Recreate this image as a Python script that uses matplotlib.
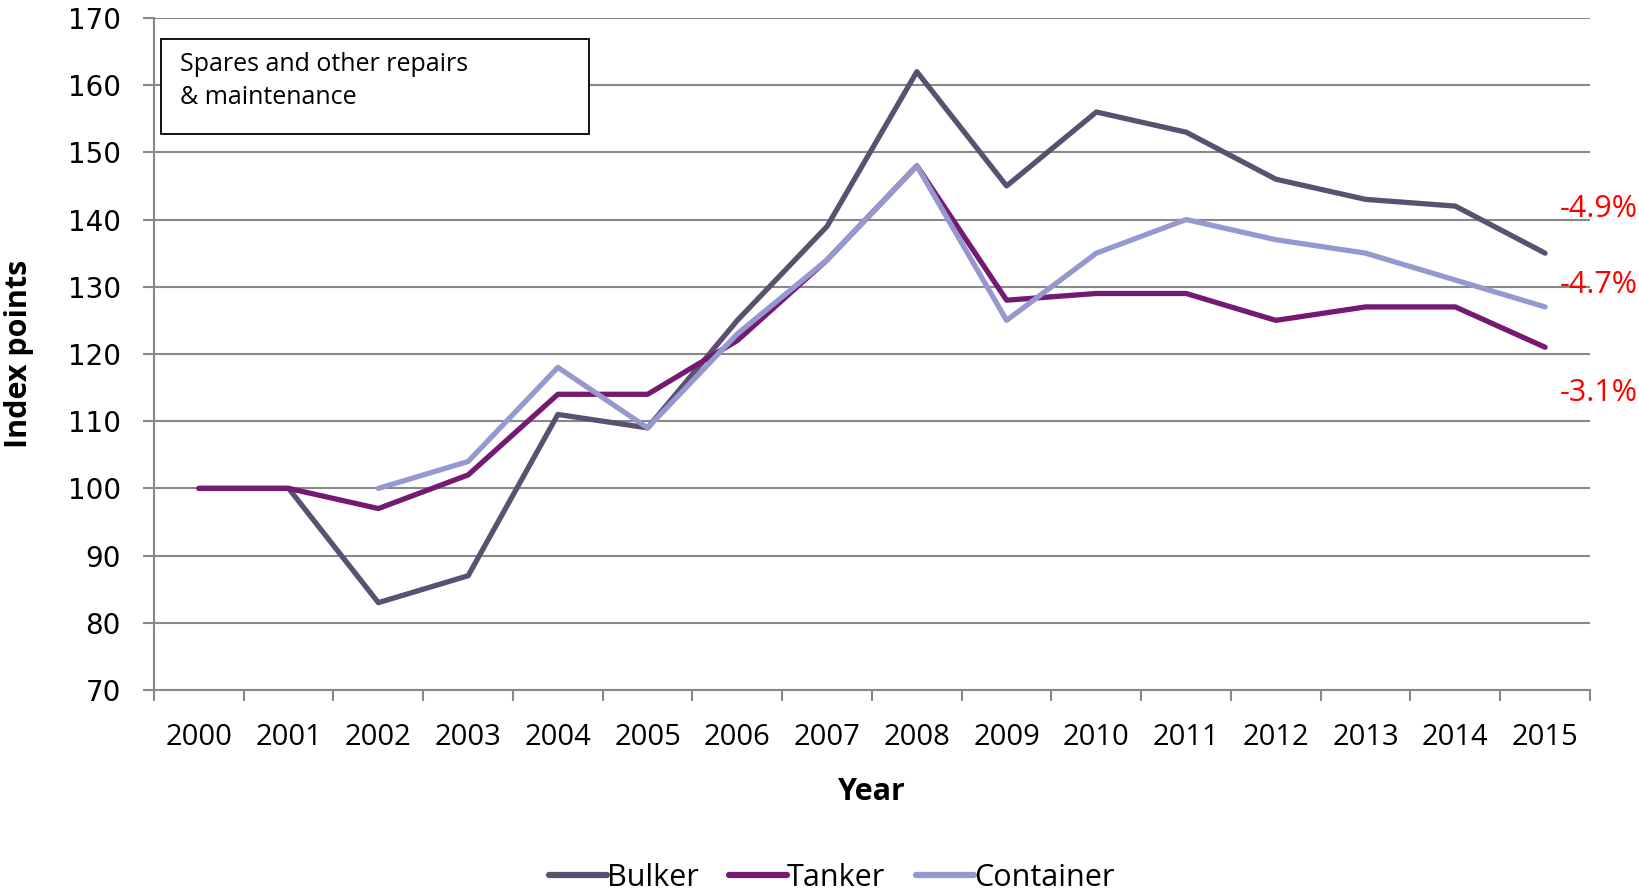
import matplotlib.pyplot as plt
from matplotlib.transforms import blended_transform_factory

years = ['2000', '2001', '2002', '2003', '2004', '2005', '2006', '2007',
         '2008', '2009', '2010', '2011', '2012', '2013', '2014', '2015']
bulker = [100, 100, 83, 87, 111, 109, 125, 139, 162, 145, 156, 153, 146, 143, 142, 135]
tanker = [100, 100, 97, 102, 114, 114, 122, 134, 148, 128, 129, 129, 125, 127, 127, 121]
# container series starts in 2002
container = [None, None, 100, 104, 118, 109, 123, 134, 148, 125, 135, 140, 137, 135, 131, 127]
changes = ['-4.9%', '-4.7%', '-3.1%']
change_y = [141.5, 130.3, 114.2]

lab_font = 'Open Sans'

fig = plt.figure(figsize=(16.4, 8.96), dpi=100)
ax = fig.add_axes([0.0939, 0.2299, 0.8756, 0.7501])

x = list(range(len(years)))
cx = [i for i, v in zip(x, container) if v is not None]
cy = [v for v in container if v is not None]

ax.plot(x, bulker, color='#5C5070', lw=3.8, solid_capstyle='round', label='Bulker', zorder=3)
ax.plot(x, tanker, color='#741A72', lw=3.8, solid_capstyle='round', label='Tanker', zorder=3)
ax.plot(cx, cy, color='#9599CF', lw=3.8, solid_capstyle='round', label='Container', zorder=4)

ax.set_ylim(70, 170)
ax.set_xlim(-0.5, len(years) - 0.5)
ax.set_yticks(range(70, 171, 10))
ax.set_xticks(x)
ax.set_xticklabels(years, fontfamily=lab_font, fontsize=21)
ax.set_xticks([i - 0.5 for i in range(len(years) + 1)], minor=True)
ax.tick_params(axis='x', which='major', length=0, pad=24)
ax.tick_params(axis='x', which='minor', length=8, width=1.5, color='#888888')
ax.tick_params(axis='y', length=8, width=1.5, color='#888888', labelsize=20, pad=16)

ax.grid(axis='y', color='#888888', lw=1.5, zorder=1)
ax.set_axisbelow(True)
for s in ['top', 'right']:
    ax.spines[s].set_visible(False)
for s in ['left', 'bottom']:
    ax.spines[s].set_color('#888888')
    ax.spines[s].set_linewidth(1.5)

ax.set_xlabel('Year', fontfamily=lab_font, fontsize=22, fontweight='bold', labelpad=18)
ax.set_ylabel('Index points', fontfamily=lab_font, fontsize=22, fontweight='bold', labelpad=24)

# percentage changes on the right edge of the figure
trans = blended_transform_factory(fig.transFigure, ax.transData)
for t, yv in zip(changes, change_y):
    ax.text(0.9985, yv, t, transform=trans, color='red', fontfamily=lab_font,
            fontsize=22, ha='right', va='center', clip_on=False)

# boxed title in upper left
box = plt.Rectangle((0.0982, 0.8504), 0.2610, 0.1064, transform=fig.transFigure,
                    fill=True, facecolor='white', edgecolor='black', lw=1.3, zorder=5)
fig.patches.append(box)
fig.text(0.1098, 0.9095, 'Spares and other repairs\n& maintenance', fontfamily=lab_font,
         fontsize=18, va='center', ha='left', linespacing=1.45, zorder=6)

fig.legend(loc='center', bbox_to_anchor=(0.507, 0.02), ncol=3, frameon=False,
           prop={'family': lab_font, 'size': 22}, handlelength=1.9, handletextpad=0.0,
           columnspacing=1.0)
for h in fig.legends[0].get_lines():
    h.set_linewidth(4.5)

fig.savefig('out.png', dpi=100)
